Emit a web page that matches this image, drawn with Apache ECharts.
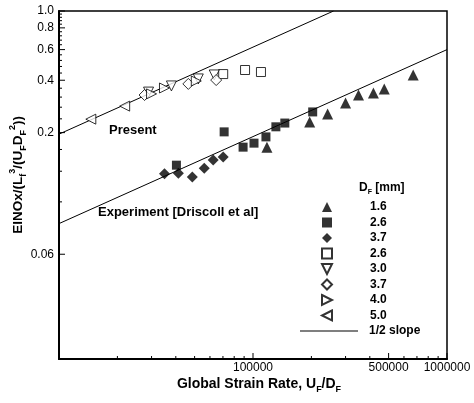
<!DOCTYPE html>
<html><head><meta charset="utf-8">
<script src="https://cdn.jsdelivr.net/npm/echarts@6/dist/echarts.min.js"></script>
<style>html,body{margin:0;padding:0;background:#fff}#c{width:474px;height:403px}</style>
</head><body><div id="c"></div>
<script>
const FONT = '"Liberation Sans", Arial, sans-serif';

// ---- data ----
const tri16  = [[118000,0.165],[196000,0.230],[242500,0.256],[300000,0.296],[349700,0.329],[417500,0.338],[475000,0.356],[669500,0.429]];
const sq26   = [[40300,0.130],[71000,0.202],[88900,0.165],[101200,0.174],[116600,0.189],[131200,0.216],[145900,0.227],[203100,0.263]];
const dia37  = [[34970,0.116],[41250,0.117],[48650,0.111],[56070,0.125],[62350,0.139],[70200,0.145]];
const osq26  = [[70200,0.434],[91000,0.458],[109900,0.446]];
const dtri30 = [[28950,0.342],[37970,0.371],[52240,0.407],[63100,0.429]];
const odia37 = [[27600,0.329],[46420,0.381],[64600,0.401]];
const rtri40 = [[30000,0.334],[34970,0.361],[51020,0.396]];
const ltri50 = [[14590,0.239],[21800,0.284]];
const presentLine    = [[10000,0.196],[260000,1.0]];
const experimentLine = [[10000,0.06],[1000000,0.6]];

const legendLabels = ['1.6','2.6','3.7','2.6','3.0','3.7','4.0','5.0'];
const seriesNames  = ['1.6 exp','2.6 exp','3.7 exp','2.6 sim','3.0 sim','3.7 sim','4.0 sim','5.0 sim'];

const xLabelValues = [100000, 500000, 1000000];
const xLabelTexts  = ['100000','500000','1000000'];
const xMinorValues = [20000,30000,40000,50000,60000,70000,80000,90000,200000,300000,400000,600000,700000,800000,900000];
const yLabelValues = [1.0, 0.8, 0.6, 0.4, 0.2, 0.04];
const yLabelTexts  = ['1.0','0.8','0.6','0.4','0.2','0.06'];
const yMinorValues = [0.08,0.12,0.16,0.24,0.28,0.32,0.36,0.44,0.48,0.52,0.56,0.64,0.68,0.72,0.76,0.84,0.88,0.92,0.96];

const X_MIN = 10000, X_MAX = 1000000, Y_MIN = 0.01, Y_MAX = 1;

// ---- chart ----
const black = '#000';
const ICON_DOWN  = 'path://M0,0L10,0L5,10Z';
const ICON_RIGHT = 'path://M0,0L10,5L0,10Z';
const ICON_LEFT  = 'path://M10,0L0,5L10,10Z';
function scatter(name, data, symbol, size, rotate, hollow) {
  return {
    name, type: 'scatter', data, symbol, symbolSize: size, symbolRotate: rotate,
    itemStyle: hollow ? {color:'#fff', borderColor: black, borderWidth: 1} : {color: black},
    z: 3
  };
}
const subStyle = {fontSize: 9, fontWeight: 'bold', fontFamily: FONT, verticalAlign: 'bottom', lineHeight: 20, color: black};
const supStyle = {fontSize: 9, fontWeight: 'bold', fontFamily: FONT, verticalAlign: 'top', lineHeight: 20, color: black};

const option = {
  animation: false,
  backgroundColor: '#fff',
  grid: {left: 57, top: 11, right: 27, bottom: 44, show: true, borderColor: black, borderWidth: 1.5},
  xAxis: {
    type: 'log', logBase: 10, min: X_MIN, max: X_MAX,
    axisLine: {lineStyle: {color: black, width: 2}},
    axisTick: {show: false}, axisLabel: {show: false}, splitLine: {show: false},
    name: 'Global Strain Rate, U{sub|F}/D{sub|F}',
    nameLocation: 'middle', nameGap: 15,
    nameTextStyle: {fontFamily: FONT, fontWeight: 'bold', fontSize: 14, color: black, lineHeight: 20,
      padding: [0,0,0,12], rich: {sub: subStyle}}
  },
  yAxis: {
    type: 'log', logBase: 10, min: Y_MIN, max: Y_MAX,
    axisLine: {lineStyle: {color: black, width: 2}},
    axisTick: {show: false}, axisLabel: {show: false}, splitLine: {show: false},
    name: 'EINOx/(L{sub|f}{sup|3}/(U{sub|F}D{sub|F}{sup|2}))',
    nameLocation: 'middle', nameGap: 31, nameRotate: 90,
    nameTextStyle: {fontFamily: FONT, fontWeight: 'bold', fontSize: 13.5, color: black, lineHeight: 20,
      padding: [0,0,0,20], rich: {sub: subStyle, sup: supStyle}}
  },
  legend: [
    {
      data: [
        {name: seriesNames[0]}, {name: seriesNames[1]}, {name: seriesNames[2]}, {name: seriesNames[3]},
        {name: seriesNames[4], icon: ICON_DOWN}, {name: seriesNames[5]},
        {name: seriesNames[6], icon: ICON_RIGHT}, {name: seriesNames[7], icon: ICON_LEFT}
      ],
      orient: 'vertical', left: 321, top: 201, padding: 0,
      itemWidth: 10, itemHeight: 10, itemGap: 3.5, selectedMode: false,
      formatter: n => legendLabels[seriesNames.indexOf(n)],
      textStyle: {fontFamily: FONT, fontWeight: 'bold', fontSize: 12, color: black, padding: [0,0,0,33]}
    },
    {
      data: ['1/2 slope'], orient: 'vertical', left: 300, top: 325, padding: 0,
      itemWidth: 58, itemHeight: 1, icon: 'rect', selectedMode: false,
      textStyle: {fontFamily: FONT, fontWeight: 'bold', fontSize: 12, color: black, padding: [0,0,0,6]}
    }
  ],
  series: [
    {name: '1/2 slope', type: 'line', data: presentLine, symbol: 'none', color: black,
     lineStyle: {color: black, width: 1}, itemStyle: {color: black}, z: 2, silent: true},
    {name: '1/2 slope', type: 'line', data: experimentLine, symbol: 'none', color: black,
     lineStyle: {color: black, width: 1}, itemStyle: {color: black}, z: 2, silent: true},
    scatter(seriesNames[0], tri16,  'triangle', 11, 0,   false),
    scatter(seriesNames[1], sq26,   'rect',     9,  0,   false),
    scatter(seriesNames[2], dia37,  'diamond',  11, 0,   false),
    scatter(seriesNames[3], osq26,  'rect',     9,  0,   true),
    scatter(seriesNames[4], dtri30, 'triangle', 10, 180, true),
    scatter(seriesNames[5], odia37, 'diamond',  11, 0,   true),
    scatter(seriesNames[6], rtri40, 'triangle', 10, -90, true),
    scatter(seriesNames[7], ltri50, 'triangle', 10, 90,  true)
  ]
};

const chart = echarts.init(document.getElementById('c'), null, {renderer: 'canvas'});
chart.setOption(option);

// ticks and tick labels placed through the axes' own log scales
const toPx = (x, y) => chart.convertToPixel({gridIndex: 0}, [x, y]);
const g = [];
function tick(x1, y1, x2, y2, w) {
  g.push({type: 'line', shape: {x1, y1, x2, y2}, style: {stroke: black, lineWidth: w}, silent: true, z: 10});
}
function label(text, x, y, align, valign) {
  g.push({type: 'text', x, y, silent: true, z: 10,
    style: {text, fill: black, font: '12px ' + FONT, align, verticalAlign: valign,
            textAlign: align, textVerticalAlign: valign}});
}
xLabelValues.forEach((v, i) => {
  const p = toPx(v, Y_MIN);
  tick(p[0], p[1], p[0], p[1] - 6, 1);
  label(xLabelTexts[i], p[0], p[1] + 9, 'center', 'middle');
});
xMinorValues.forEach(v => { const p = toPx(v, Y_MIN); tick(p[0], p[1], p[0], p[1] - 3, 1); });
yLabelValues.forEach((v, i) => {
  const p = toPx(X_MIN, v);
  tick(p[0], p[1], p[0] + 6, p[1], 1);
  label(yLabelTexts[i], p[0] - 5, p[1], 'right', 'middle');
});
yMinorValues.forEach(v => { const p = toPx(X_MIN, v); tick(p[0], p[1], p[0] + 3, p[1], 1); });

// annotations
g.push({type: 'text', x: 109, y: 130, silent: true,
  style: {text: 'Present', fill: black, font: 'bold 13px ' + FONT, align: 'left', verticalAlign: 'middle', textAlign: 'left', textVerticalAlign: 'middle'}});
g.push({type: 'text', x: 98, y: 212, silent: true,
  style: {text: 'Experiment [Driscoll et al]', fill: black, font: 'bold 13px ' + FONT, align: 'left', verticalAlign: 'middle', textAlign: 'left', textVerticalAlign: 'middle'}});
g.push({type: 'text', x: 359, y: 188, silent: true,
  style: {text: 'D{s|F} [mm]', fill: black, font: 'bold 12px ' + FONT, align: 'left', verticalAlign: 'middle',
    textAlign: 'left', textVerticalAlign: 'middle', lineHeight: 16,
    rich: {s: {fontSize: 7, fontWeight: 'bold', fontFamily: FONT, verticalAlign: 'bottom', lineHeight: 16, fill: black}}}});

chart.setOption({graphic: {elements: g}});
</script>
</body></html>
